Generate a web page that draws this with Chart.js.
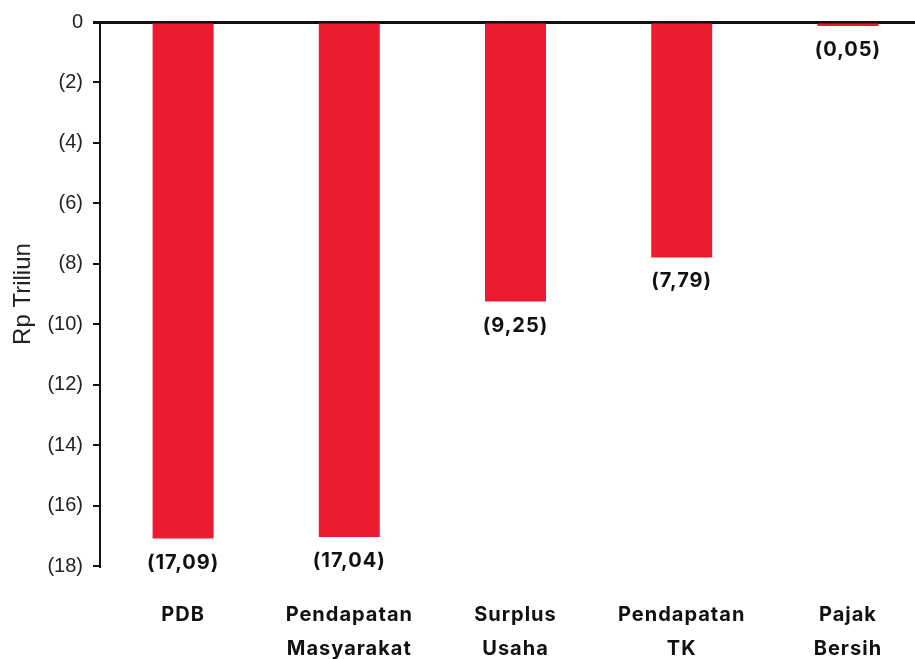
<!DOCTYPE html>
<html>
<head>
<meta charset="utf-8">
<script src="https://cdn.jsdelivr.net/npm/chart.js@4/dist/chart.umd.min.js"></script>
<style>
  html, body { margin: 0; padding: 0; background: #fff; overflow: hidden; width: 915px; height: 659px; }
  #wrap { width: 931px; height: 659px; }
  canvas { display: block; }
</style>
</head>
<body>
<div id="wrap"><canvas id="c" width="931" height="659"></canvas></div>
<script>
// Categories (two-line labels) and values in Rp trillion
const categories = [
  ['PDB'],
  ['Pendapatan', 'Masyarakat'],
  ['Surplus', 'Usaha'],
  ['Pendapatan', 'TK'],
  ['Pajak', 'Bersih']
];
const values = [-17.09, -17.04, -9.25, -7.79, -0.05];
const valueLabels = ['(17,09)', '(17,04)', '(9,25)', '(7,79)', '(0,05)'];
const yTicks = [0, -2, -4, -6, -8, -10, -12, -14, -16, -18];

const RED = '#ED1B30';
const INK = '#111111';
const BOLD_FAMILY = 'Inter, "Open Sans", sans-serif';

// Value labels go just below the end of each bar; the bold text that follows
// (these labels and the category names, drawn on a later layer) is spaced a little wider.
const barValueLabels = {
  id: 'barValueLabels',
  afterDatasetsDraw(chart) {
    const ctx = chart.ctx;
    const meta = chart.getDatasetMeta(0);
    ctx.letterSpacing = '1px';
    ctx.save();
    ctx.font = 'bold 20px ' + BOLD_FAMILY;
    ctx.fillStyle = INK;
    ctx.textAlign = 'center';
    ctx.textBaseline = 'middle';
    meta.data.forEach((bar, i) => {
      const endY = Math.max(bar.y, bar.base);
      ctx.fillText(valueLabels[i], bar.x, endY + 24);
    });
    ctx.restore();
  },
  afterDraw(chart) {
    chart.ctx.letterSpacing = '0px';
  }
};

new Chart(document.getElementById('c'), {
  type: 'bar',
  data: {
    labels: categories,
    datasets: [{
      data: values,
      backgroundColor: RED,
      borderWidth: 0,
      categoryPercentage: 1,
      barPercentage: 0.367,
      minBarLength: 4
    }]
  },
  options: {
    responsive: false,
    animation: false,
    events: [],
    layout: { padding: { top: 20, left: 0, right: 0, bottom: 0 } },
    plugins: { legend: { display: false }, tooltip: { enabled: false } },
    scales: {
      x: {
        grid: { display: false, drawTicks: false },
        border: { display: false },
        ticks: {
          z: 1,
          color: INK,
          padding: 32,
          maxRotation: 0,
          autoSkip: false,
          font: { family: BOLD_FAMILY, size: 20, weight: 'bold', lineHeight: 1.7 }
        },
        afterFit(scale) { scale.height = 93; }
      },
      y: {
        min: -18,
        max: 0,
        afterBuildTicks(scale) { scale.ticks = yTicks.map(v => ({ value: v })); },
        ticks: {
          color: '#222',
          padding: 10,
          font: { family: '"Liberation Sans", Arial, sans-serif', size: 20 },
          callback: v => v === 0 ? '0' : '(' + (-v) + ')'
        },
        grid: {
          color: c => (c.tick && c.tick.value === 0) ? INK : 'rgba(0,0,0,0)',
          lineWidth: c => (c.tick && c.tick.value === 0) ? 3 : 0,
          tickColor: INK,
          tickWidth: c => (c.tick && c.tick.value === 0) ? 3 : 2,
          tickLength: 7
        },
        border: { display: true, color: INK, width: 2 },
        title: {
          display: true,
          text: 'Rp Triliun',
          color: '#222',
          font: { family: '"Liberation Sans", Arial, sans-serif', size: 24 },
          padding: { top: 9, bottom: 0 }
        },
        afterFit(scale) { scale.width = 100; }
      }
    }
  },
  plugins: [barValueLabels]
});
</script>
</body>
</html>
